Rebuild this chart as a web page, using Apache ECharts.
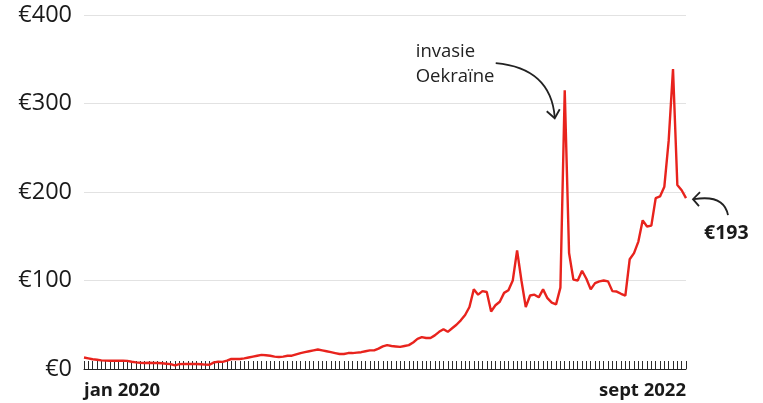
<!DOCTYPE html>
<html>
<head>
<meta charset="utf-8">
<script src="https://cdn.jsdelivr.net/npm/echarts@6/dist/echarts.min.js"></script>
<style>
html,body{margin:0;padding:0;background:#fff;}
#chart{width:763px;height:403px;}
</style>
</head>
<body>
<div id="chart"></div>
<script>
// Weekly price (€), jan 2020 – sept 2022
const prices = [
  13, 12, 11, 10.5, 9.7, 9.5, 9.4, 9.4, 9.5, 9.4,
  9.2, 8.2, 7.5, 7, 6.8, 7, 6.8, 6.8, 6.5, 6,
  5.5, 4, 5.5, 5.6, 5.6, 5.8, 5.6, 5.3, 5, 4.8,
  7.5, 8.2, 8, 9.5, 11.3, 11.3, 11.3, 12, 13, 14,
  15, 16, 15.5, 15, 14, 13.5, 14, 15, 15, 16.5,
  18, 19, 20, 21, 22, 21, 20, 19, 18, 17,
  17, 18, 18, 18.5, 19, 20, 21, 21, 23, 25.5,
  27, 26, 25.5, 25, 26, 27, 30, 34, 36, 35,
  35, 38, 42, 45, 42, 46, 50, 55, 61, 70,
  90, 84, 88, 87, 65, 72, 76, 86, 89, 100,
  134, 100, 70, 83, 84, 81, 90, 80, 75, 73,
  92, 315, 131, 101, 100, 111, 102, 90, 97, 99,
  100, 99, 88, 87.5, 85, 83, 124, 131, 144, 168,
  161, 162, 193, 195, 206, 258, 339, 208, 202, 193
];
const tickLabels = ['jan 2020', 'sept 2022'];
const yTicks = [0, 100, 200, 300, 400];
const annotations = { invasion: 'invasie\nOekraïne', last: '€193' };
const invasionIndex = 111;

// weekly category keys
const weeks = [];
{
  const d = new Date(Date.UTC(2020, 0, 6));
  for (let i = 0; i < prices.length; i++) {
    weeks.push(d.toISOString().slice(0, 10));
    d.setUTCDate(d.getUTCDate() + 7);
  }
}

const FONT = '"Open Sans", "DejaVu Sans", sans-serif';
const chart = echarts.init(document.getElementById('chart'), null, {renderer: 'canvas'});

const option = {
  animation: false,
  backgroundColor: '#fff',
  grid: { left: 84, right: 77, top: 15, bottom: 34, containLabel: false },
  xAxis: {
    type: 'category',
    data: weeks,
    boundaryGap: false,
    axisLine: { show: true, lineStyle: { color: '#222', width: 1 } },
    axisTick: { show: true, inside: true, length: 8, interval: 0, lineStyle: { color: '#2a2a2a', width: 1 } },
    axisLabel: {
      interval: (idx) => idx === 0 || idx === prices.length - 1,
      formatter: (val, idx) => idx === 0 ? tickLabels[0] : tickLabels[1],
      showMinLabel: true, showMaxLabel: true,
      alignMinLabel: 'left', alignMaxLabel: 'right',
      margin: 12,
      fontFamily: FONT, fontWeight: 'bold', fontSize: 18.5, color: '#1a1a1a'
    },
    splitLine: { show: false }
  },
  yAxis: {
    type: 'value',
    min: yTicks[0], max: yTicks[yTicks.length - 1], interval: 100,
    axisLine: { show: false }, axisTick: { show: false },
    axisLabel: {
      formatter: '€{value}', margin: 12,
      fontFamily: FONT, fontSize: 23.5, color: '#1a1a1a'
    },
    splitLine: { show: true, lineStyle: { color: '#e2e2e2', width: 1 } }
  },
  series: [{
    type: 'line',
    data: prices,
    showSymbol: false,
    symbol: 'none',
    lineStyle: { color: '#e8231d', width: 2.4 },
    z: 3
  }]
};
chart.setOption(option);

function addAnnotations() {
  const p1 = chart.convertToPixel({ gridIndex: 0 }, [invasionIndex, prices[invasionIndex]]);
  const last = prices.length - 1;
  const p2 = chart.convertToPixel({ gridIndex: 0 }, [last, prices[last]]);
  const stroke = { stroke: '#222', lineWidth: 1.8, fill: null };
  chart.setOption({
    graphic: [
      {
        type: 'text', left: p1[0] - 149, top: p1[1] - 51,
        style: { text: annotations.invasion, font: '18.5px ' + FONT, fill: '#222', lineHeight: 25 }
      },
      {
        type: 'bezierCurve',
        shape: { x1: p1[0] - 69, y1: p1[1] - 27, x2: p1[0] - 10, y2: p1[1] + 27, cpx1: p1[0] - 14, cpy1: p1[1] - 22 },
        style: stroke
      },
      {
        type: 'polyline',
        shape: { points: [[p1[0] - 18, p1[1] + 21], [p1[0] - 10, p1[1] + 28], [p1[0] - 5, p1[1] + 19]] },
        style: stroke
      },
      {
        type: 'text', left: p2[0] + 18, top: p2[1] + 25,
        style: { text: annotations.last, font: 'bold 19.5px ' + FONT, fill: '#1a1a1a' }
      },
      {
        type: 'bezierCurve',
        shape: { x1: p2[0] + 42, y1: p2[1] + 17, x2: p2[0] + 8, y2: p2[1] + 1, cpx1: p2[0] + 38, cpy1: p2[1] - 4 },
        style: stroke
      },
      {
        type: 'polyline',
        shape: { points: [[p2[0] + 14, p2[1] - 6], [p2[0] + 7, p2[1] + 1], [p2[0] + 13, p2[1] + 8]] },
        style: stroke
      }
    ]
  });
}
addAnnotations();
</script>
</body>
</html>
